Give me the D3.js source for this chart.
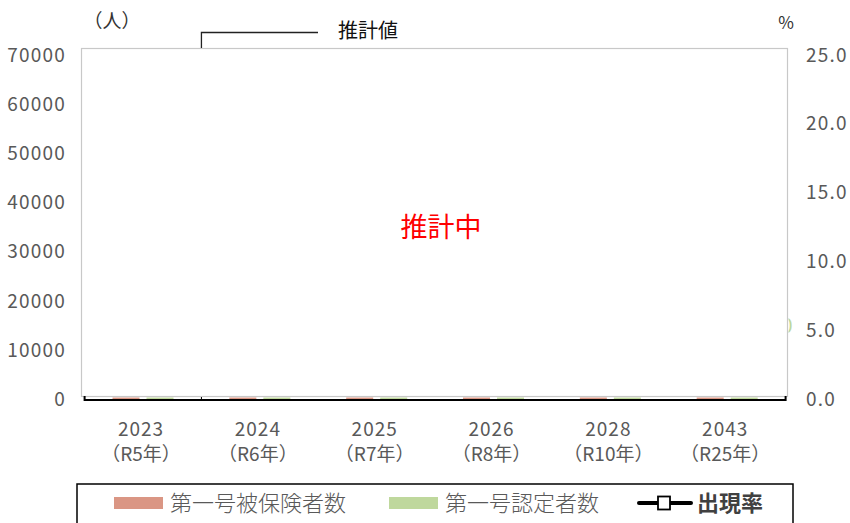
<!DOCTYPE html>
<html><head><meta charset="utf-8">
<script src="https://cdn.jsdelivr.net/npm/d3@7"></script>
<style>
body{margin:0;background:#fff;}
text{font-family:"Noto Sans CJK JP","Noto Sans",sans-serif;}
</style></head>
<body><svg id="c" width="850" height="523"></svg>
<script>
const years = ["2023","2024","2025","2026","2028","2043"];
const eras = ["（R5年）","（R6年）","（R7年）","（R8年）","（R10年）","（R25年）"];
const insured = [400,400,400,400,400,400];
const certified = [400,400,400,400,400,400];
const rate = [null,null,null,null,null,null];
const leftTicks = [0,10000,20000,30000,40000,50000,60000,70000];
const rightTicks = [0,5,10,15,20,25];
const seriesNames = ["第一号被保険者数","第一号認定者数","出現率"];
const colors = {insured:"#DA9684", certified:"#BFD89D", text:"#595959"};

const svg = d3.select("#c");
const x = d3.scaleBand().domain(years).range([84.6,785.6]);
const yL = d3.scaleLinear().domain([0,70000]).range([399.5,55]);
const yR = d3.scaleLinear().domain([0,25]).range([399.5,55]);

// plot area border
svg.append("rect").attr("x",81.5).attr("y",48.5).attr("width",706).attr("height",348)
  .attr("fill","none").attr("stroke","#c8c8c8").attr("stroke-width",1.2);

// bars
const bw = 27;
svg.selectAll(".b1").data(years).enter().append("rect")
  .attr("x",d=>x(d)+x.bandwidth()/2-30.5).attr("width",bw)
  .attr("y",(d,i)=>yL(insured[i])).attr("height",(d,i)=>yL(0)-yL(insured[i]))
  .attr("fill",colors.insured);
svg.selectAll(".b2").data(years).enter().append("rect")
  .attr("x",d=>x(d)+x.bandwidth()/2+3.5).attr("width",bw)
  .attr("y",(d,i)=>yL(certified[i])).attr("height",(d,i)=>yL(0)-yL(certified[i]))
  .attr("fill",colors.certified);

// rate line (no data yet)
const line = d3.line().defined(d=>d!=null).x((d,i)=>x(years[i])+x.bandwidth()/2).y(d=>yR(d));
svg.append("path").datum(rate).attr("d",line).attr("fill","none").attr("stroke","#000").attr("stroke-width",3);

// x axis line
svg.append("line").attr("x1",x.range()[0]).attr("x2",x.range()[1]).attr("y1",400).attr("y2",400)
  .attr("stroke","#000").attr("stroke-width",2);
[x.range()[0], x.range()[1]].forEach(px=>{
  svg.append("line").attr("x1",px).attr("x2",px).attr("y1",396).attr("y2",401).attr("stroke","#000").attr("stroke-width",2);
});
svg.append("line").attr("x1",x(years[1])).attr("x2",x(years[1])).attr("y1",397).attr("y2",400).attr("stroke","#000").attr("stroke-width",1);

// x labels
const xl = svg.append("g").selectAll("g").data(years).enter().append("g")
  .attr("transform",d=>`translate(${x(d)+x.bandwidth()/2-2},0)`);
xl.append("text").attr("y",436).attr("text-anchor","middle").attr("font-size",19).attr("letter-spacing",1).attr("fill",colors.text).text(d=>d);
xl.append("text").attr("y",461).attr("text-anchor","middle").attr("font-size",19).attr("fill",colors.text).text((d,i)=>eras[i]);

// left axis labels
svg.append("g").selectAll("text").data(leftTicks).enter().append("text")
  .attr("x",66).attr("y",d=>yL(d)+6.5).attr("text-anchor","end").attr("font-size",19).attr("letter-spacing",1.2).attr("fill",colors.text)
  .text(d=>d);
// right axis labels
svg.append("g").selectAll("text").data(rightTicks).enter().append("text")
  .attr("x",806).attr("y",d=>yR(d)+6.5).attr("text-anchor","start").attr("font-size",19).attr("letter-spacing",1.2).attr("fill",colors.text)
  .text(d=>d.toFixed(1));

// units
svg.append("text").attr("x",112).attr("y",28).attr("text-anchor","middle").attr("font-size",19).attr("fill","#333").text("（人）");
svg.append("text").attr("x",786).attr("y",29).attr("text-anchor","middle").attr("font-size",17).attr("fill","#333").text("%");

// estimate bracket
svg.append("path").attr("d",`M${x(years[1])},48 V32.5 H318`).attr("fill","none").attr("stroke","#222").attr("stroke-width",1.3);
svg.append("text").attr("x",338).attr("y",38).attr("font-size",20).attr("fill","#111").text("推計値");

// center note
svg.append("text").attr("x",441).attr("y",237).attr("text-anchor","middle").attr("font-size",27).attr("fill","#ff0000").text("推計中");

// clipped green glyph at right edge
svg.append("clipPath").attr("id","cp").append("rect").attr("x",788.5).attr("y",300).attr("width",20).attr("height",50);
svg.append("text").attr("x",781).attr("y",333).attr("font-size",21).attr("fill","#BFD89D").attr("clip-path","url(#cp)").text("0");

// legend
svg.append("rect").attr("x",77).attr("y",484).attr("width",716).attr("height",50).attr("fill","#fff").attr("stroke","#000").attr("stroke-width",1.5);
svg.append("rect").attr("x",114).attr("y",497).attr("width",49).attr("height",12).attr("fill",colors.insured);
svg.append("text").attr("x",170).attr("y",511).attr("font-size",22).attr("font-weight",300).attr("fill",colors.text).text(seriesNames[0]);
svg.append("rect").attr("x",389).attr("y",497).attr("width",49).attr("height",12).attr("fill",colors.certified);
svg.append("text").attr("x",445).attr("y",511).attr("font-size",22).attr("font-weight",300).attr("fill",colors.text).text(seriesNames[1]);
svg.append("line").attr("x1",639).attr("x2",691).attr("y1",503).attr("y2",503).attr("stroke","#000").attr("stroke-width",4).attr("stroke-linecap","round");
svg.append("rect").attr("x",658).attr("y",496.5).attr("width",12).attr("height",13).attr("fill","#fff").attr("stroke","#000").attr("stroke-width",1.8);
svg.append("text").attr("x",697).attr("y",511).attr("font-size",22).attr("font-weight",700).attr("fill","#404040").text(seriesNames[2]);
</script></body></html>
